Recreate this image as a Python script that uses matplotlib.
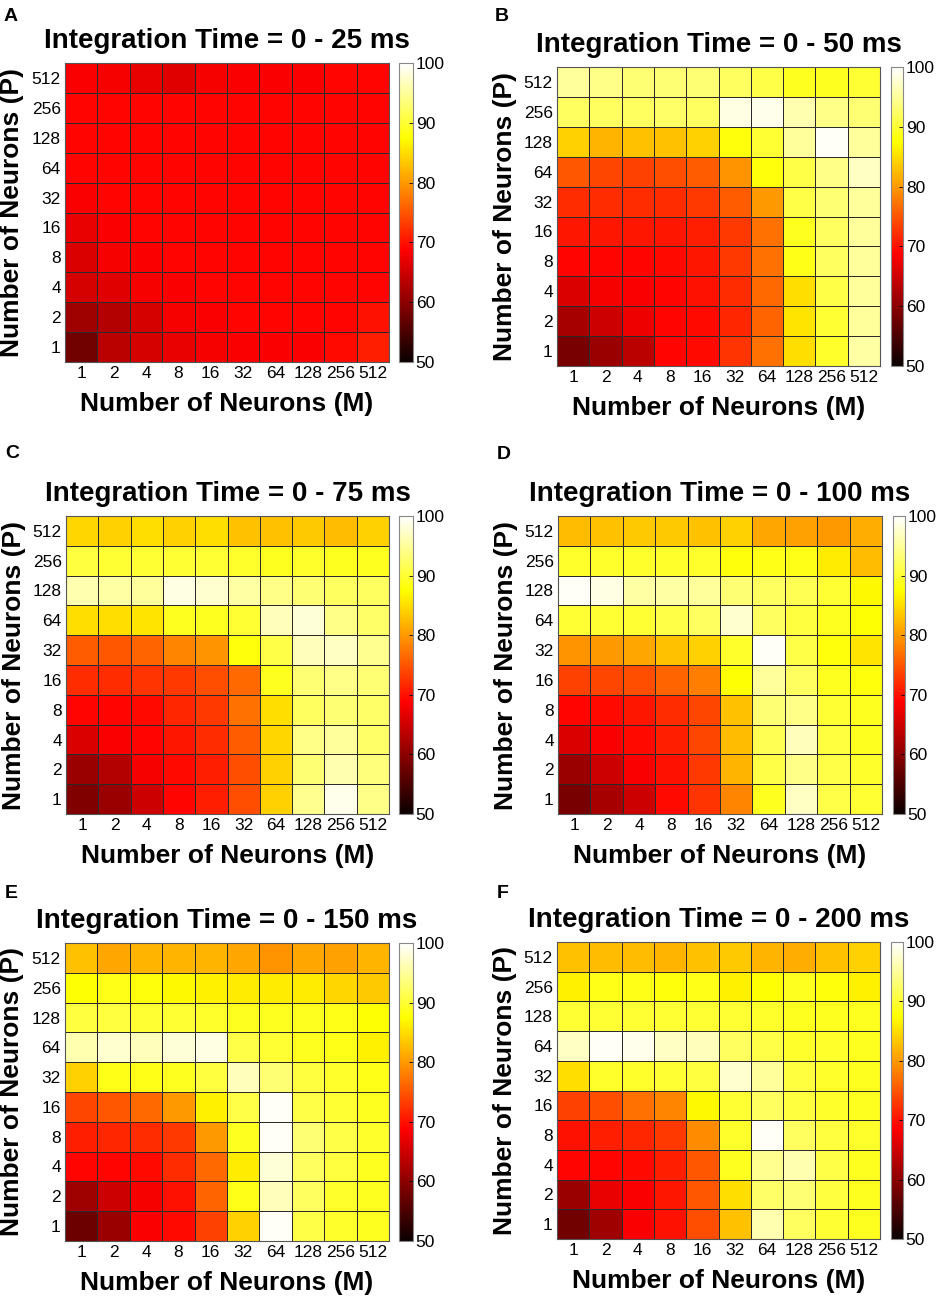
import numpy as np
import matplotlib
matplotlib.use("Agg")
import matplotlib.pyplot as plt
from matplotlib.colors import LinearSegmentedColormap

plt.rcParams['font.family'] = ['Liberation Sans', 'DejaVu Sans']

# tick labels (same on both axes)
m_labels = ['1', '2', '4', '8', '16', '32', '64', '128', '256', '512']
p_labels = ['1', '2', '4', '8', '16', '32', '64', '128', '256', '512']
panel_letters = ['A', 'B', 'C', 'D', 'E', 'F']
titles = ['Integration Time = 0 - 25 ms', 'Integration Time = 0 - 50 ms',
          'Integration Time = 0 - 75 ms', 'Integration Time = 0 - 100 ms',
          'Integration Time = 0 - 150 ms', 'Integration Time = 0 - 200 ms']

# accuracy (%), rows = P from 1 (bottom) to 512 (top), cols = M from 1 to 512
acc_25 = [
    [58, 63.5, 65.5, 67, 68, 68.5, 68.5, 68.5, 69.5, 71],
    [61.5, 63, 65.5, 68, 68.5, 69, 69, 69, 69, 70],
    [65.5, 66.5, 68, 68.5, 69, 69, 69, 69, 69, 69],
    [66, 68, 68.5, 69, 69, 69, 69, 69, 69, 69],
    [67, 68.5, 69, 69, 69, 69, 69, 69, 69, 69],
    [68.5, 69, 69, 69, 69, 69, 69, 69, 69, 69],
    [69, 69, 69, 69, 69, 69, 69, 69, 69, 69],
    [69, 69, 69, 69, 69, 69, 69, 69, 69, 69],
    [69, 69, 69, 69, 69, 69, 69, 69, 69, 69],
    [68.5, 68, 67, 66.5, 68, 68.5, 68.5, 68.5, 69, 69],
]
acc_50 = [
    [58.5, 61, 63.5, 69, 69.5, 72.5, 77, 85, 89.5, 95.5],
    [62, 65, 67.5, 69, 69.5, 71.5, 76, 85.5, 90, 95],
    [66, 68, 68.5, 69, 70, 72, 76.5, 85, 91, 95],
    [69, 69, 69, 69.5, 70.5, 73, 77, 88.5, 92, 95],
    [70.5, 70.5, 70.5, 70.5, 71, 73, 77, 89, 92, 95],
    [72, 72, 72, 72, 73, 75.5, 80, 91, 93, 95],
    [75, 74, 73.5, 74.5, 75.5, 79.5, 88, 91, 94, 97],
    [84, 82, 83, 83, 84, 88, 90, 95, 99.5, 95],
    [92, 92, 92, 92.5, 92, 98.5, 99, 96, 94, 93],
    [95, 94, 93, 93, 93, 92, 91, 89, 89, 90],
]
acc_75 = [
    [59, 61, 65, 69, 71, 74.5, 84, 94.5, 99, 94],
    [61, 63, 68, 69.5, 71, 74.5, 84, 93, 96, 93.5],
    [66, 68.5, 69, 70.5, 72, 75.5, 84.5, 94, 95, 92.5],
    [69, 69, 69.5, 71.5, 73, 77, 85, 92, 93, 92.5],
    [72, 72, 72.5, 73, 74.5, 76.5, 89, 93, 94, 93],
    [75.5, 75, 76, 78.5, 79.5, 88, 91, 96.5, 97, 94.5],
    [85, 85, 85.5, 89, 89, 90, 96.5, 98, 94, 92.5],
    [96, 95.5, 95, 98.5, 97.5, 95.5, 94, 93, 92, 92],
    [90.5, 90, 90, 90, 90, 89.5, 89, 89.5, 89, 89],
    [84.5, 84, 85, 84, 85, 83, 83, 83.5, 82.5, 84],
]
acc_100 = [
    [58.5, 62, 65, 69.5, 72.5, 78.5, 89, 97, 91, 90],
    [61, 65, 68.5, 70, 73, 82, 91, 94, 91, 89.5],
    [66, 68.5, 69.5, 71, 74, 82.5, 91.5, 96.5, 90.5, 89],
    [69, 69.5, 70.5, 72, 74, 83, 93, 94, 90, 89],
    [73.5, 74, 74.5, 76, 78, 87.5, 95, 92, 89, 88],
    [79.5, 80, 81, 83, 84, 89.5, 99.5, 91, 88, 85.5],
    [90, 90, 90, 91, 92, 97.5, 92, 90.5, 89, 87.5],
    [99.5, 98.5, 95.5, 95.5, 95, 93, 92, 91.5, 90, 87],
    [89.5, 89.5, 89.5, 89.5, 89.5, 88, 88.5, 88.5, 86, 82.5],
    [82.5, 83, 83.5, 83.5, 83, 84, 81, 80.5, 80, 81.5],
]
acc_150 = [
    [57.5, 61, 68.5, 69.5, 73.5, 84, 99.5, 91, 89.5, 89],
    [61.5, 65, 68, 70, 76, 88.5, 96.5, 92, 89.5, 89],
    [69, 69, 69.5, 72, 76.5, 86, 98, 92, 90.5, 89],
    [71, 71.5, 72, 73, 80, 89, 99.5, 93, 91, 89.5],
    [74, 75, 76.5, 80, 86.5, 91, 99.5, 91, 90, 89],
    [84, 88.5, 88.5, 89, 90.5, 96.5, 93, 90.5, 89.5, 88.5],
    [96, 97.5, 96.5, 98, 98.5, 91, 90, 89, 88.5, 86.5],
    [90.5, 90.5, 90, 90, 89.5, 89, 89, 89, 88.5, 87.5],
    [87.5, 88.5, 88, 87, 86.5, 86, 86, 86, 84.5, 83.5],
    [83, 81, 82, 82, 82, 81, 79.5, 81, 80.5, 82],
]
acc_200 = [
    [58, 61.5, 68.5, 70, 74.5, 83, 96, 92, 90, 89],
    [61, 67, 68.5, 70.5, 75, 85, 92.5, 93, 90.5, 89],
    [69, 69, 69.5, 71, 75, 89, 94.5, 96, 91, 89],
    [70, 71, 71.5, 73, 79, 89.5, 99.5, 92, 90.5, 89.5],
    [73.5, 74.5, 77, 78.5, 87, 90, 92, 90.5, 89.5, 89],
    [85, 89.5, 89.5, 90, 90.5, 97.5, 95, 90.5, 89.5, 89],
    [97, 99.5, 99, 97, 96.5, 92, 91, 89.5, 89.5, 89],
    [90, 90, 90, 90, 90, 90, 89.5, 89, 89, 89],
    [86.5, 88.5, 88.5, 88, 88.5, 86.5, 87.5, 89, 88, 86.5],
    [83, 82.5, 82.5, 82, 83, 83.5, 82, 81.5, 83, 84],
]
panels = [acc_25, acc_50, acc_75, acc_100, acc_150, acc_200]

# MATLAB-style "hot": red ramps to 3/8, green to 6/8, blue to the end
hot_m = LinearSegmentedColormap('hot_m', {
    'red':   [(0, 0.0417, 0.0417), (0.375, 1, 1), (1, 1, 1)],
    'green': [(0, 0, 0), (0.375, 0, 0), (0.75, 1, 1), (1, 1, 1)],
    'blue':  [(0, 0, 0), (0.75, 0, 0), (1, 1, 1)],
}, N=256)

W, H = 939, 1300
fig = plt.figure(figsize=(W / 100, H / 100), dpi=100)

# pixel boxes: (left, top, right, bottom) of heatmap, colorbar left/right, letter x/y
boxes = [
    ((65, 63, 389, 362), (399, 413), (4, 8)),
    ((557, 67, 880, 366), (891, 903), (495, 8)),
    ((66, 516, 389, 814), (399, 413), (5, 445)),
    ((558, 516, 882, 814), (893, 905), (497, 446)),
    ((65, 943, 389, 1241), (399, 413), (5, 885)),
    ((557, 942, 880, 1239), (891, 903), (497, 885)),
]


def px_axes(l, t, r, b):
    return fig.add_axes([l / W, 1 - b / H, (r - l) / W, (b - t) / H])


for k in range(6):
    (l, t, r, b), (cl, cr), (lx, ly) = boxes[k]
    ax = px_axes(l, t, r, b)
    data = np.array(panels[k])
    mesh = ax.pcolormesh(np.arange(11), np.arange(11), data, cmap=hot_m,
                         vmin=50, vmax=100, edgecolors='#2a2a2a', linewidth=0.7)
    ax.set_xlim(0, 10)
    ax.set_ylim(0, 10)
    ax.set_xticks(np.arange(10) + 0.5)
    ax.set_yticks(np.arange(10) + 0.5)
    ax.set_xticklabels(m_labels)
    ax.set_yticklabels(p_labels)
    ax.tick_params(length=0, labelsize=12.5, pad=3)
    for s in ax.spines.values():
        s.set_color('#555555')
        s.set_linewidth(0.8)
    ax.set_title(titles[k], fontsize=20, fontweight='bold', pad=11)
    ax.set_xlabel('Number of Neurons (M)', fontsize=19, fontweight='bold')
    ax.set_ylabel('Number of Neurons (P)', fontsize=19, fontweight='bold')
    ax.xaxis.set_label_coords(0.5, -0.1)
    ax.yaxis.set_label_coords(-0.125, 0.5)

    cax = px_axes(cl, t, cr, b)
    cb = fig.colorbar(mesh, cax=cax, ticks=[50, 60, 70, 80, 90, 100])
    cb.outline.set_edgecolor('#888888')
    cb.outline.set_linewidth(0.8)
    cax.tick_params(direction='in', length=3, width=0.6, labelsize=12.5, pad=2,
                    left=False, right=True)

    fig.text(lx / W, 1 - ly / H, panel_letters[k], fontsize=14, fontweight='bold',
             ha='left', va='top')

fig.savefig('out.png', dpi=100)
